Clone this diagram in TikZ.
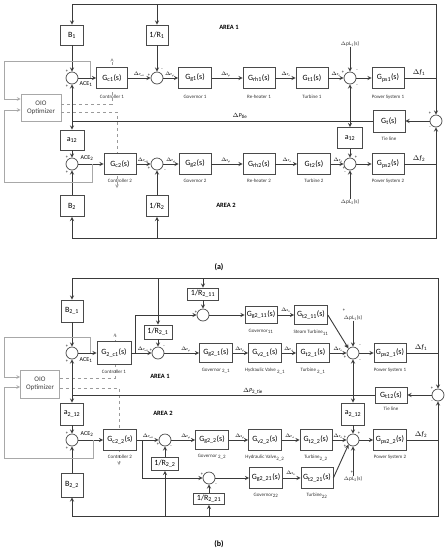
\documentclass[tikz,border=0pt]{standalone}
\usepackage{fontspec}
\setmainfont{Carlito}
\usetikzlibrary{positioning}

\definecolor{linec}{HTML}{3A3A3A}
\definecolor{boxc}{HTML}{4A4A4A}
\definecolor{grayc}{HTML}{A8A8A8}
\definecolor{dashc}{HTML}{9A9A9A}
\newcommand{\lsub}[1]{\textsubscript{#1}}

\begin{document}
\begin{tikzpicture}[x=1pt, y=-1pt, >=stealth,
    blk/.style={draw=boxc, line width=0.7pt, fill=white, minimum width=32pt,
        minimum height=21pt, inner sep=0pt, font=\fontsize{8}{9}\selectfont},
    sumc/.style={circle, draw=boxc, line width=0.7pt, fill=white, minimum size=12pt, inner sep=0pt},
    optbox/.style={draw=grayc, line width=0.7pt, fill=white, align=center, minimum width=40pt,
        minimum height=27pt, inner sep=0pt, text=black!75, font=\fontsize{7}{8.5}\selectfont},
    lbl/.style={font=\fontsize{5}{6}\selectfont, inner sep=0pt, text=black!80},
    sgn/.style={font=\fontsize{4.5}{5}\selectfont, inner sep=0pt},
    sig/.style={font=\fontsize{3}{3.5}\selectfont, inner sep=0pt},
    arealbl/.style={font=\bfseries\fontsize{6.5}{7}\selectfont, inner sep=0pt},
    outlbl/.style={font=\fontsize{7}{8}\selectfont, inner sep=0pt},
    acelbl/.style={font=\fontsize{6}{7}\selectfont, inner sep=0pt},
    wire/.style={draw=linec, line width=0.9pt},
    fb/.style={draw=grayc, line width=0.7pt},
    tune/.style={draw=dashc, dashed, line width=0.6pt}]

\useasboundingbox (0,0) rectangle (447,550);

% ---------------- (a) two-area system ----------------
\node[optbox] (oio1) at (41,108) {OIO\\Optimizer};
\coordinate (tu1) at (112,58);
\coordinate (tu2) at (117,188);
\draw[tune,->] ([yshift=4pt]oio1.east) -| (tu1);
\draw[tune,->] ([yshift=-4pt]oio1.east) -| (tu2);

\node[blk, minimum width=23pt, minimum height=20pt] (B1) at (72,35) {B\lsub{1}};
\node[blk, minimum width=22pt, minimum height=20pt] (R1) at (157,35) {1/R\lsub{1}};
\node[sumc] (ace1) at (72,78) {};
\node[blk, minimum width=31pt] (gc1) at (112,78) {G\lsub{c1}(s)};
\node[sumc] (s11) at (157,78) {};
\node[blk, minimum width=33pt] (gg1) at (195,78) {G\lsub{g1}(s)};
\node[blk] (grh1) at (259,78) {G\lsub{rh1}(s)};
\node[blk] (gt1) at (312,78) {G\lsub{t1}(s)};
\node[sumc] (s13) at (350,78) {};
\node[blk] (gps1) at (388,78) {G\lsub{ps1}(s)};
\node[sumc] (sr1) at (436,121) {};
\node[blk, minimum height=22pt] (gtie1) at (389,121) {G\lsub{t}(s)};
\node[blk, minimum width=24pt, minimum height=20pt] (a12l) at (72,140) {a\lsub{12}};
\node[blk, minimum width=25pt, minimum height=21pt] (a12r) at (350,138) {a\lsub{12}};
\node[sumc] (ace2) at (72,164) {};
\node[blk] (gc2) at (120,164) {G\lsub{c2}(s)};
\node[sumc] (s21) at (157,164) {};
\node[blk] (gg2) at (195,164) {G\lsub{g2}(s)};
\node[blk] (grh2) at (259,164) {G\lsub{rh2}(s)};
\node[blk, minimum width=33pt] (gt2) at (314,164) {G\lsub{t2}(s)};
\node[sumc] (s23) at (350,164) {};
\node[blk] (gps2) at (388,164) {G\lsub{ps2}(s)};
\node[blk, minimum width=24pt] (B2) at (72,206) {B\lsub{2}};
\node[blk, minimum width=22pt] (R2) at (157,206) {1/R\lsub{2}};

\node[lbl, below=6pt of gc1] (cap1) {Controller 1};
\node[lbl, below=6pt of gg1] (cap2) {Governor 1};
\node[lbl, below=6pt of grh1] (cap3) {Re-heater 1};
\node[lbl, below=6pt of gt1] (cap4) {Turbine 1};
\node[lbl, below=6pt of gps1] (cap5) {Power System 1};
\node[lbl, below=4pt of gtie1] (cap6) {Tie line};
\node[lbl, below=4pt of gc2] (cap7) {Controller 2};
\node[lbl, below=4pt of gg2] (cap8) {Governor 2};
\node[lbl, below=4pt of grh2] (cap9) {Re-heater 2};
\node[lbl, below=4pt of gt2] (cap10) {Turbine 2};
\node[lbl, below=4pt of gps2] (cap11) {Power System 2};

\node[arealbl] (area1) at (229,27) {AREA 1};
\node[arealbl] (area2) at (226,205) {AREA 2};
\node[font=\bfseries\fontsize{8}{9}\selectfont] (parta) at (219,267) {(a)};
\node[acelbl] (acet1) at (86,84) {ACE\lsub{1}};
\node[acelbl] (acet2) at (87,158) {ACE\lsub{2}};

\node[lbl, font=\fontsize{5.5}{6}\selectfont] (dpl1) at (350,44) {$\Delta$pL\lsub{1}(s)};
\node[lbl, font=\fontsize{5.5}{6}\selectfont] (dpl2) at (350,202) {$\Delta$pL\lsub{2}(s)};
\node[outlbl] (df1) at (419,73) {$\Delta$\textit{f}\lsub{1}};
\node[outlbl] (df2) at (419,159) {$\Delta$\textit{f}\lsub{2}};
\node[outlbl, font=\fontsize{6}{7}\selectfont] (dtie1) at (240,116) {$\Delta$\textit{P}\lsub{tie}};

\coordinate (tl1) at (72,4);
\coordinate (tr1) at (436,4);
\coordinate (f1) at (436,78);
\coordinate (f2) at (436,164);
\coordinate (tie1) at (72,121);
\coordinate (tie2) at (350,121);
\coordinate (bl1) at (72,238);
\coordinate (br1) at (436,238);

\foreach \a/\b in {ace1/gc1, gc1/s11, s11/gg1, gg1/grh1, grh1/gt1, gt1/s13, s13/gps1,
                   ace2/gc2, gc2/s21, s21/gg2, gg2/grh2, grh2/gt2, gt2/s23, s23/gps2,
                   B1/ace1, R1/s11, B2/ace2, R2/s21, a12l/ace2, a12r/s23,
                   dpl1/s13, dpl2/s23, sr1/gtie1}
    \draw[wire,->] (\a) -- (\b);
\draw[wire] (gps1) -- (f1);
\draw[wire] (gps2) -- (f2);
\draw[wire,->] (f1) -- (tr1) -- (tl1) -- (B1);
\draw[wire,->] (R1 |- tl1) -- (R1);
\draw[wire,->] (f1) -- (sr1);
\draw[wire,->] (f2) -- (sr1);
\draw[wire,->] (f2) -- (br1) -- (bl1) -- (B2);
\draw[wire,->] (R2 |- bl1) -- (R2);
\draw[wire] (gtie1) -- (tie1);
\draw[wire,->] (tie1) -- (ace1);
\draw[wire,->] (tie1) -- (a12l);
\draw[wire,->] (tie2) -- (s13);
\draw[wire,->] (tie2) -- (a12r);

\coordinate (e1) at (90,78);
\coordinate (g1) at (4,61);
\coordinate (e2) at (92,164);
\coordinate (g2) at (4,182);
\draw[fb,->] (e1) |- (g1) |- ([yshift=9pt]oio1.west);
\draw[fb,->] (e2) |- (g2) |- ([yshift=-2pt]oio1.west);

% signs and signal names
\node[sgn] (p1) at (67,71) {+};
\node[sgn] (p2) at (67,86) {+};
\node[sgn] (p3) at (149,75) {+};
\node[sgn] (p4) at (162,70) {-};
\node[sgn] (p5) at (343,72) {+};
\node[sgn] (p6) at (357,71) {-};
\node[sgn] (p7) at (357,86) {-};
\node[sgn] (p8) at (430,113) {+};
\node[sgn] (p9) at (430,128) {-};
\node[sgn] (p10) at (67,157) {+};
\node[sgn] (p11) at (67,172) {+};
\node[sgn] (p12) at (149,168) {+};
\node[sgn] (p13) at (165,171) {-};
\node[sgn] (p14) at (356,157) {+};
\node[sgn] (p15) at (344,168) {+};
\node[sgn] (p16) at (345,173) {-};
\node[sig] (n1) at (139,74) {$\Delta$P\lsub{ref1}};
\node[sig] (n2) at (170,74) {$\Delta$P\lsub{g1}};
\node[sig] (n3) at (226,74) {$\Delta$X\lsub{g1}};
\node[sig] (n4) at (286,74) {$\Delta$P\lsub{r1}};
\node[sig] (n5) at (336,74) {$\Delta$P\lsub{t1}};
\node[sig] (n6) at (143,160) {$\Delta$P\lsub{ref2}};
\node[sig] (n7) at (171,160) {$\Delta$P\lsub{g2}};
\node[sig] (n8) at (226,160) {$\Delta$X\lsub{g2}};
\node[sig] (n9) at (287,160) {$\Delta$P\lsub{r2}};
\node[sig] (n10) at (338,160) {$\Delta$P\lsub{t2}};

% ---------------- (b) multi-unit system ----------------
\node[optbox, minimum width=39pt, minimum height=28pt] (oio2) at (40,384) {OIO\\Optimizer};
\coordinate (tu3) at (115,333);
\coordinate (tu4) at (119,465);
\draw[tune,->] ([yshift=6pt]oio2.east) -| (tu3);
\draw[tune,->] ([yshift=-4pt]oio2.east) -| (tu4);

\node[blk, minimum width=22pt, minimum height=22pt] (B21) at (72,311) {B\lsub{2\_1}};
\node[blk, minimum width=31pt, minimum height=12pt] (R211) at (203,294) {1/R\lsub{2\_11}};
\node[blk, minimum width=28pt, minimum height=14pt] (R21) at (158,332) {1/R\lsub{2\_1}};
\node[sumc] (c11) at (203,315) {};
\node[blk, minimum height=17pt] (gg211) at (261,315) {G\lsub{g2\_11}(s)};
\node[blk, minimum width=33pt, minimum height=19pt] (gt211) at (311,315) {G\lsub{t2\_11}(s)};
\node[sumc] (ace1b) at (72,353) {};
\node[blk, minimum width=34pt, minimum height=23pt] (gc1b) at (114,353) {G\lsub{2\_c1}(s)};
\node[sumc] (s1b) at (158,353) {};
\node[blk, minimum width=33pt, minimum height=19pt] (gg21) at (216,353) {G\lsub{g2\_1}(s)};
\node[blk, minimum width=33pt, minimum height=19pt] (gv21) at (265,353) {G\lsub{v2\_1}(s)};
\node[blk, minimum width=33pt, minimum height=19pt] (gt21) at (313,353) {G\lsub{t2\_1}(s)};
\node[sumc] (s3b) at (353,353) {};
\node[blk, minimum height=19pt] (gps21) at (390,353) {G\lsub{ps2\_1}(s)};
\node[sumc] (sr2) at (438,395) {};
\node[blk, minimum height=16pt] (gtie2) at (391,395) {G\lsub{t12}(s)};
\node[blk, minimum width=23pt, minimum height=22pt] (a212l) at (72,414) {a\lsub{2\_12}};
\node[blk, minimum width=23pt, minimum height=22pt] (a212r) at (353,414) {a\lsub{2\_12}};
\node[sumc] (ace2b) at (72,440) {};
\node[blk, minimum width=33pt] (gc2b) at (120,440) {G\lsub{c2\_2}(s)};
\node[sumc] (s2b) at (165,440) {};
\node[blk, minimum width=33pt, minimum height=19pt] (gg22) at (212,440) {G\lsub{g2\_2}(s)};
\node[blk, minimum width=33pt] (gv22) at (265,440) {G\lsub{v2\_2}(s)};
\node[blk] (gt22) at (316,440) {G\lsub{t2\_2}(s)};
\node[sumc] (s5b) at (353,440) {};
\node[blk, minimum width=33pt] (gps22) at (390,440) {G\lsub{ps2\_2}(s)};
\node[blk, minimum width=27pt, minimum height=13pt] (R22) at (165,464) {1/R\lsub{2\_2}};
\node[sumc] (c21) at (209,478) {};
\node[blk, minimum width=33pt] (gg221) at (266,478) {G\lsub{g2\_21}(s)};
\node[blk] (gt221) at (317,478) {G\lsub{t2\_21}(s)};
\node[blk, minimum width=31pt, minimum height=11pt] (R221) at (209,499) {1/R\lsub{2\_21}};
\node[blk, minimum width=22pt, minimum height=24pt] (B22) at (72,485) {B\lsub{2\_2}};

\node[lbl, below=5pt of gc1b] (cap12) {Controller 1};
\node[lbl, below=5pt of gg21] (cap13) {Governor \lsub{2\_1}};
\node[lbl, below=5pt of gv21] (cap14) {Hydraulic Valve \lsub{2\_1}};
\node[lbl, below=5pt of gt21] (cap15) {Turbine \lsub{2\_1}};
\node[lbl, below=5pt of gps21] (cap16) {Power System 1};
\node[lbl, below=5pt of gg211] (cap17) {Governor\lsub{11}};
\node[lbl, below=5pt of gt211] (cap18) {Steam Turbine\lsub{11}};
\node[lbl, below=3pt of gtie2] (cap19) {Tie line};
\node[lbl, below=4pt of gc2b] (cap20) {Controller 2};
\node[lbl, below=4pt of gg22] (cap21) {Governor \lsub{2\_2}};
\node[lbl, below=4pt of gv22] (cap22) {Hydraulic Valve\lsub{2\_2}};
\node[lbl, below=4pt of gt22] (cap23) {Turbine\lsub{2\_2}};
\node[lbl, below=4pt of gps22] (cap24) {Power System 2};
\node[lbl, below=4pt of gg221] (cap25) {Governor\lsub{22}};
\node[lbl, below=4pt of gt221] (cap26) {Turbine\lsub{22}};

\node[arealbl] (area3) at (160,376) {AREA 1};
\node[arealbl] (area4) at (163,413) {AREA 2};
\node[font=\bfseries\fontsize{8}{9}\selectfont] (partb) at (219,544) {(b)};
\node[acelbl] (acet3) at (86,360) {ACE\lsub{1}};
\node[acelbl] (acet4) at (87,434) {ACE\lsub{2}};

\node[lbl, font=\fontsize{5.5}{6}\selectfont] (dpl3) at (353,318) {$\Delta$pL\lsub{1}(s)};
\node[lbl, font=\fontsize{5.5}{6}\selectfont] (dpl4) at (353,479) {$\Delta$pL\lsub{2}(s)};
\node[sgn] (p17) at (344,310) {+};
\node[sgn] (p18) at (352,472) {+};
\node[outlbl] (df3) at (421,348) {$\Delta$\textit{f}\lsub{1}};
\node[outlbl] (df4) at (421,435) {$\Delta$\textit{f}\lsub{2}};
\node[outlbl, font=\fontsize{6}{7}\selectfont] (dtie2) at (253,391) {$\Delta$\textit{P}\lsub{2\_tie}};

\coordinate (tl2) at (72,278);
\coordinate (tr2) at (438,278);
\coordinate (f3) at (438,353);
\coordinate (f4) at (438,440);
\coordinate (tie3) at (72,395);
\coordinate (tie4) at (353,395);
\coordinate (bl2) at (72,516);
\coordinate (br2) at (438,516);
\coordinate (j1) at (135,353);
\coordinate (j2) at (142,440);

\foreach \a/\b in {ace1b/gc1b, gc1b/s1b, s1b/gg21, gg21/gv21, gv21/gt21, gt21/s3b, s3b/gps21,
                   c11/gg211, gg211/gt211,
                   ace2b/gc2b, gc2b/s2b, s2b/gg22, gg22/gv22, gv22/gt22, gt22/s5b, s5b/gps22,
                   c21/gg221, gg221/gt221,
                   B21/ace1b, R21/s1b, R211/c11, B22/ace2b, R22/s2b, R221/c21,
                   a212l/ace2b, a212r/s5b, dpl3/s3b, dpl4/s5b, sr2/gtie2}
    \draw[wire,->] (\a) -- (\b);
\draw[wire,->] (gt211.east) -- (s3b.north west);
\draw[wire,->] (gt221.east) -- (s5b.south west);
\draw[wire,->] (j1) |- (c11);
\draw[wire,->] (j2) |- (c21);
\draw[wire] (gps21) -- (f3);
\draw[wire] (gps22) -- (f4);
\draw[wire,->] (f3) -- (tr2) -- (tl2) -- (B21);
\draw[wire,->] (R21 |- tl2) -- (R21);
\draw[wire,->] (R211 |- tl2) -- (R211);
\draw[wire,->] (f3) -- (sr2);
\draw[wire,->] (f4) -- (sr2);
\draw[wire,->] (f4) -- (br2) -- (bl2) -- (B22);
\draw[wire,->] (R22 |- bl2) -- (R22);
\draw[wire,->] (R221 |- bl2) -- (R221);
\draw[wire] (gtie2) -- (tie3);
\draw[wire,->] (tie3) -- (ace1b);
\draw[wire,->] (tie3) -- (a212l);
\draw[wire,->] (tie4) -- (s3b);
\draw[wire,->] (tie4) -- (a212r);

\coordinate (e3) at (90,353);
\coordinate (g3) at (4,337);
\coordinate (e4) at (93,440);
\coordinate (g4) at (4,458);
\draw[fb,->] (e3) |- (g3) |- ([yshift=7pt]oio2.west);
\draw[fb,->] (e4) |- (g4) |- ([yshift=-3pt]oio2.west);

\node[sgn] (p19) at (67,346) {+};
\node[sgn] (p20) at (67,361) {+};
\node[sgn] (p21) at (151,350) {+};
\node[sgn] (p22) at (164,347) {-};
\node[sgn] (p23) at (196,312) {+};
\node[sgn] (p24) at (346,346) {+};
\node[sgn] (p25) at (360,346) {-};
\node[sgn] (p26) at (345,357) {+};
\node[sgn] (p27) at (360,361) {-};
\node[sgn] (p28) at (432,388) {+};
\node[sgn] (p29) at (432,402) {-};
\node[sgn] (p30) at (67,433) {+};
\node[sgn] (p31) at (67,448) {+};
\node[sgn] (p32) at (158,444) {+};
\node[sgn] (p33) at (171,447) {-};
\node[sgn] (p34) at (202,474) {+};
\node[sgn] (p35) at (216,485) {-};
\node[sgn] (p36) at (359,433) {+};
\node[sgn] (p37) at (345,437) {+};
\node[sgn] (p38) at (345,446) {+};
\node[sig] (n11) at (143,349) {$\Delta$P\lsub{ref1}};
\node[sig] (n12) at (186,349) {$\Delta$P\lsub{g1}};
\node[sig] (n13) at (240,349) {$\Delta$X\lsub{g1}};
\node[sig] (n14) at (289,349) {$\Delta$P\lsub{v1}};
\node[sig] (n15) at (338,349) {$\Delta$P\lsub{t1}};
\node[sig] (n16) at (286,310) {$\Delta$X\lsub{11}};
\node[sig] (n17) at (148,436) {$\Delta$P\lsub{ref2}};
\node[sig] (n18) at (186,436) {$\Delta$P\lsub{g2}};
\node[sig] (n19) at (240,436) {$\Delta$X\lsub{g2}};
\node[sig] (n20) at (290,436) {$\Delta$P\lsub{v2}};
\node[sig] (n21) at (338,436) {$\Delta$P\lsub{t2}};
\node[sig] (n22) at (291,473) {$\Delta$X\lsub{21}};
\end{tikzpicture}
\end{document}
